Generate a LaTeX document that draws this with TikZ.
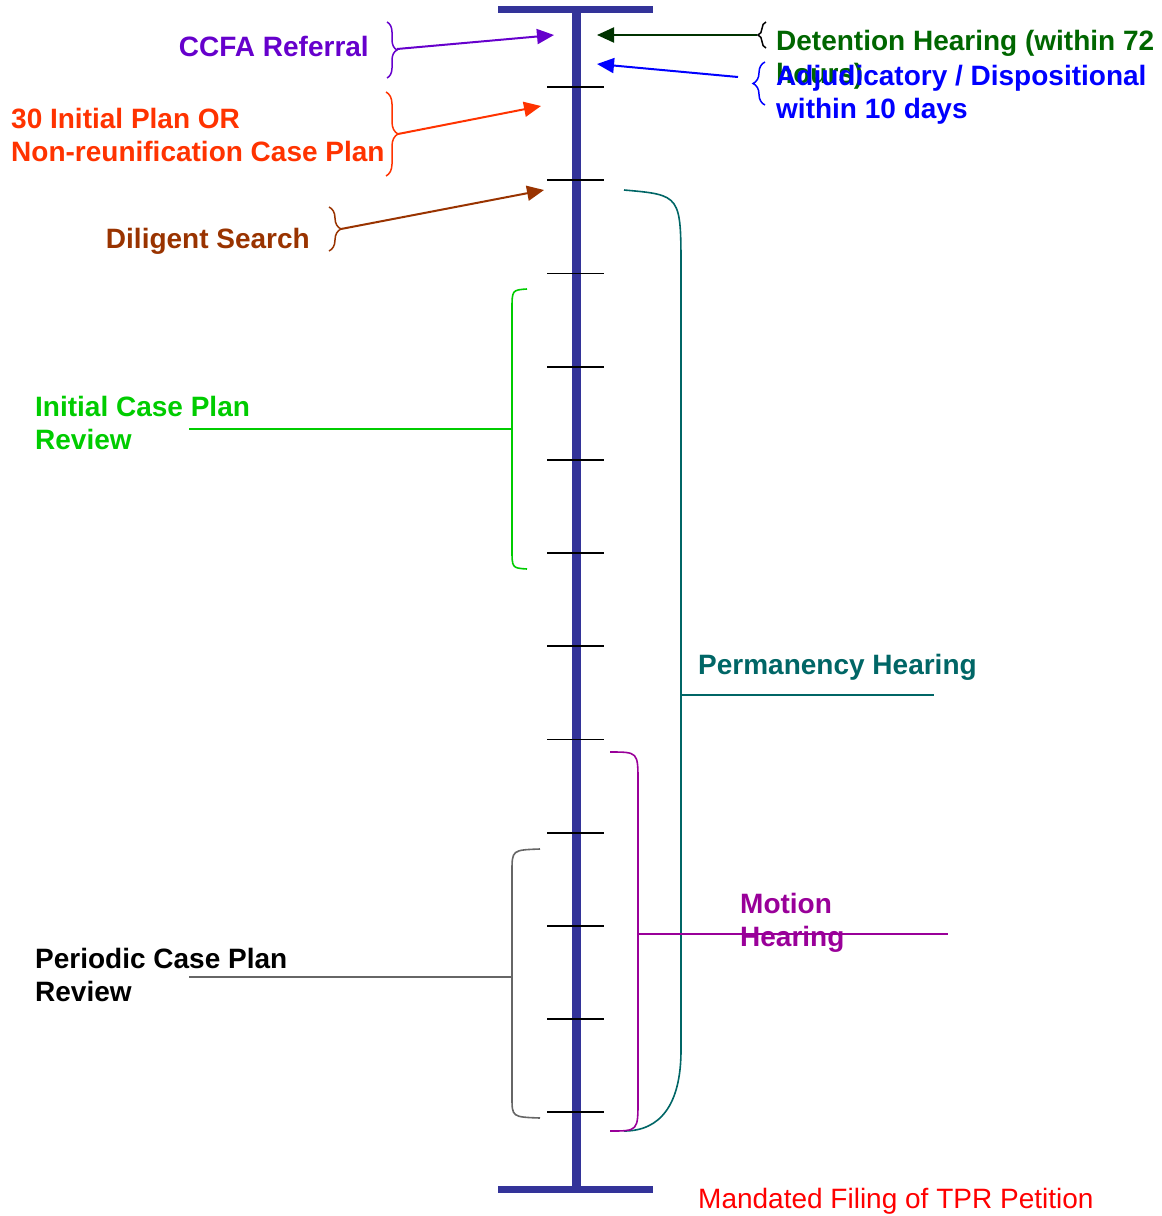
\documentclass[tikz,border=0pt]{standalone}
\usepackage{fontspec}
\setmainfont{Liberation Sans}
\usetikzlibrary{arrows.meta,decorations.pathreplacing}
\definecolor{axisblue}{HTML}{333399}
\definecolor{ccfac}{HTML}{6600CC}
\definecolor{planc}{HTML}{FF3300}
\definecolor{searchc}{HTML}{993300}
\definecolor{detarrow}{HTML}{003300}
\definecolor{detc}{HTML}{006600}
\definecolor{adjc}{HTML}{0000FF}
\definecolor{icprc}{HTML}{00CC00}
\definecolor{permc}{HTML}{006666}
\definecolor{motionc}{HTML}{990099}
\definecolor{pcprc}{HTML}{666666}
\definecolor{tprc}{HTML}{FF0000}
\tikzset{
  lbl/.style={font=\fontsize{28}{33}\selectfont\bfseries, inner sep=0pt, align=left},
  brc/.style={decorate, decoration={brace, amplitude=#1}, line width=1.5pt},
  pnt/.style={-{Triangle[length=17pt,width=15pt]}, line width=2pt},
  bkt/.style={line width=1.6pt},
  tickmark/.style={line width=1.8pt}
}
\begin{document}
\begin{tikzpicture}[x=1pt, y=-1pt]
\useasboundingbox (0,0) rectangle (1162,1216);
% time line
\draw[axisblue, line width=9pt] (576,9) -- (576,1189);
\draw[axisblue, line width=7pt] (498,9) -- (653,9);
\draw[axisblue, line width=7pt] (498,1189) -- (653,1189);
\foreach \i in {0,...,11}
  \draw[tickmark] (547,87+93.2*\i) -- (604,87+93.2*\i);

% left side
\node (ccfa)[lbl, ccfac, anchor=base east] at (369,56) {CCFA Referral};
\coordinate (ccfab) at (397,49);
\coordinate (ccfat) at (554,35);
\draw[brc=10pt, ccfac] (387,22) -- (387,78);
\draw[pnt, ccfac] (ccfab) -- (ccfat);

\node (plan)[lbl, planc, anchor=base west] at (11,161) {30 Initial Plan OR\\Non-reunification Case Plan};
\coordinate (planb) at (398,134);
\coordinate (plant) at (541,106);
\draw[brc=12pt, planc] (386,92) -- (386,176);
\draw[pnt, planc] (planb) -- (plant);

\node (search)[lbl, searchc, anchor=base east] at (310,248) {Diligent Search};
\coordinate (searchb) at (341,229);
\coordinate (searcht) at (544,190);
\draw[brc=12pt, searchc] (329,207) -- (329,251);
\draw[pnt, searchc] (searchb) -- (searcht);

% right side
\node (det)[lbl, detc, anchor=base west] at (776,83) {Detention Hearing (within 72\\hours)};
\coordinate (detb) at (757,35);
\coordinate (dett) at (597,35);
\draw[brc=8pt, black] (766,48) -- (766,22);
\draw[pnt, detarrow] (detb) -- (dett);

\node (adj)[lbl, adjc, anchor=base west] at (776,118) {Adjudicatory / Dispositional\\within 10 days};
\coordinate (adjb) at (738,77);
\coordinate (adjt) at (597,64);
\draw[brc=12pt, adjc] (765,105) -- (765,62);
\draw[pnt, adjc] (adjb) -- (adjt);

% brackets
\node (icpr)[lbl, icprc, anchor=base west] at (35,449) {Initial Case Plan\\Review};
\coordinate (icprm) at (512,429);
\coordinate (icpre) at (189,429);
\draw[bkt, icprc] (527,289) .. controls (512,290) .. (512,310) -- (512,549) .. controls (512,568) .. (527,569);
\draw[bkt, icprc] (icprm) -- (icpre);

\node (perm)[lbl, permc, anchor=base west] at (698,674) {Permanency Hearing};
\coordinate (permm) at (681,695);
\coordinate (perme) at (934,695);
\draw[bkt, permc] (624,190) .. controls (681,195) .. (681,270) -- (681,1050) .. controls (681,1105) and (660,1131) .. (624,1131);
\draw[bkt, permc] (permm) -- (perme);

\node (motion)[lbl, motionc, anchor=base west] at (740,946) {Motion\\Hearing};
\coordinate (motionm) at (638,934);
\coordinate (motione) at (948,934);
\draw[bkt, motionc] (610,752) .. controls (638,752) .. (638,782) -- (638,1100) .. controls (638,1131) .. (610,1131);
\draw[bkt, motionc] (motionm) -- (motione);

\node (pcpr)[lbl, black, anchor=base west] at (35,1001) {Periodic Case Plan\\Review};
\coordinate (pcprm) at (512,977);
\coordinate (pcpre) at (189,977);
\draw[bkt, pcprc] (540,849) .. controls (512,850) .. (512,872) -- (512,1097) .. controls (512,1117) .. (540,1118);
\draw[bkt, pcprc] (pcprm) -- (pcpre);

\node (tpr)[font=\fontsize{28}{33}\selectfont, inner sep=0pt, tprc, anchor=base west] at (698,1208) {Mandated Filing of TPR Petition};
\end{tikzpicture}
\end{document}
